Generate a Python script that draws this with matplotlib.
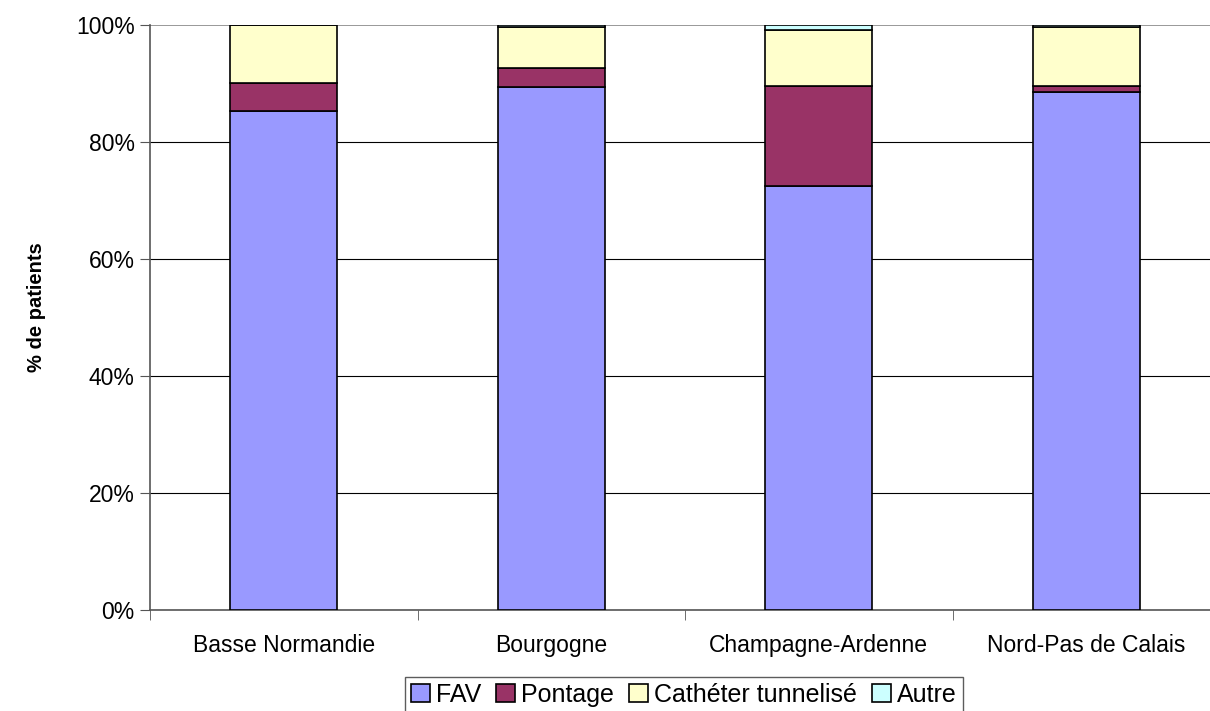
import numpy as np
import matplotlib
matplotlib.use("Agg")
from matplotlib import pyplot as plt
from matplotlib.ticker import PercentFormatter

plt.rcParams['font.family'] = ['Liberation Sans', 'DejaVu Sans']

regions = ['Basse Normandie', 'Bourgogne', 'Champagne-Ardenne', 'Nord-Pas de Calais']
fav = [85.3, 89.4, 72.5, 88.5]
pontage = [4.8, 3.3, 17.0, 1.1]
catheter = [9.9, 6.9, 9.6, 10.0]
autre = [0.0, 0.4, 0.9, 0.4]

series = [('FAV', fav, '#9999FF'),
          ('Pontage', pontage, '#993366'),
          ('Cathéter tunnelisé', catheter, '#FFFFCC'),
          ('Autre', autre, '#CCFFFF')]

fig = plt.figure(figsize=(12.1, 7.11), dpi=100)
ax = fig.add_axes([150 / 1210, 101 / 711, 1070 / 1210, 585 / 711])

x = np.arange(len(regions))
bottom = np.zeros(len(regions))
for name, vals, col in series:
    vals = np.array(vals)
    ax.bar(x, vals, 0.4, bottom=bottom, color=col, edgecolor='black',
           linewidth=1.2, label=name, zorder=3)
    bottom += vals

ax.set_xlim(-0.5, 3.5)
ax.set_ylim(0, 100)
ax.set_yticks(np.arange(0, 101, 20))
ax.yaxis.set_major_formatter(PercentFormatter(decimals=0))
ax.grid(axis='y', color='black', linewidth=0.8, zorder=0)
# top gridline is lighter
ax.get_ygridlines()[-1].set_color('#888888')
ax.get_ygridlines()[-1].set_linewidth(1.2)

ax.set_xticks(x)
ax.set_xticklabels(regions, fontsize=16.5)
ax.tick_params(axis='x', which='major', length=0, pad=17)
ax.set_xticks(np.arange(-0.5, 4, 1), minor=True)
ax.tick_params(axis='x', which='minor', length=7, color='#555555')
ax.tick_params(axis='y', labelsize=16.5, length=7, color='#555555', pad=4)

for s in ['top', 'right']:
    ax.spines[s].set_visible(False)
ax.spines['left'].set_color('#555555')
ax.spines['bottom'].set_color('#555555')
ax.spines['left'].set_linewidth(1.2)
ax.spines['bottom'].set_linewidth(1.2)

fig.text(37 / 1210, 1 - 307 / 711, '% de patients', rotation=90, fontsize=14.5,
         fontweight='bold', ha='center', va='center')

leg = fig.legend(loc='center', bbox_to_anchor=(684 / 1210, 1 - 695 / 711), ncol=4,
                 fontsize=18, frameon=True, fancybox=False, edgecolor='#333333',
                 handlelength=0.75, handleheight=0.75, handletextpad=0.25,
                 columnspacing=0.6, borderpad=0.25, borderaxespad=0)
leg.get_frame().set_linewidth(1.0)

fig.savefig('out.png', dpi=100)
